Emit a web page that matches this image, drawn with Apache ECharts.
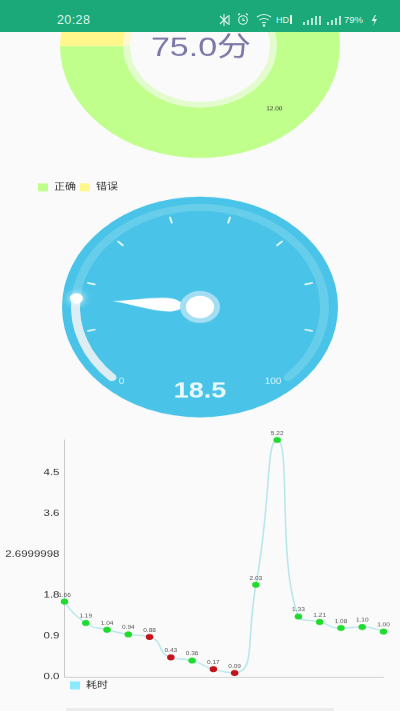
<!DOCTYPE html>
<html><head><meta charset="utf-8">
<script src="https://cdn.jsdelivr.net/npm/echarts@6/dist/echarts.min.js"></script>
<style>
html,body{margin:0;padding:0;width:400px;height:711px;overflow:hidden;background:#fafafa;font-family:"Liberation Sans",sans-serif}
#chart{position:absolute;left:0;top:0;width:400px;height:889px;transform:scaleY(0.8);transform-origin:0 0}
#bar{position:absolute;left:0;top:0;width:400px;height:32px;background:#1ba97a;color:#dff5ec;z-index:5}
#time{position:absolute;left:57px;top:12px;font-size:12.5px;letter-spacing:.4px;line-height:16px}
#hd{position:absolute;left:276px;top:14px;font-size:9px;line-height:12px}
#pct{position:absolute;left:344px;top:14px;font-size:9.5px;line-height:12px}
#bar svg{position:absolute;left:0;top:0}
#foot{position:absolute;left:66px;top:708px;width:268px;height:3px;background:#ececec}
</style></head><body>
<div id="chart"></div>
<div id="bar"><span id="time">20:28</span><span id="hd">HD</span><span id="pct">79%</span>
<svg width="400" height="32" fill="none" stroke="#dff5ec" stroke-width="1.1">
<path d="M220 16l8 8M220 24l8-8M224 14v12M229 15v10"/>
<circle cx="243" cy="20" r="4.3"/><path d="M243 18v2.5h2M238 15l2-1.5M248 15l-2-1.5"/>
<path d="M257 17q7-5 14 0M259.500 20q4.500-3 9 0M262 23q2-1.500 4 0"/><circle cx="264" cy="25.500" r=".8" fill="#dff5ec"/>
<path d="M291 15v9" stroke-width="2"/>
<path d="M304 25v-3M308 25v-5M312 25v-7M316 25v-9M320 25v-9M328 25v-3M332 25v-5M336 25v-7M340 25v-9" stroke-width="1.600"/>
<path d="M375 15l-3.500 6h3l-1.500 5 4-7h-3l2-4z" fill="#dff5ec" stroke="none"/>
</svg></div>
<div id="foot"></div>
<script>
// Score ring
const pieNames = ['正确', '错误'];
const pieValues = [12, 4];
const pieColors = ['#C0FF8C', '#FFF78C'];
const scoreText = '75.0分';
// Gauge
const gaugeValue = 18.5;
const gaugeMin = 0;
const gaugeMax = 100;
// Line
const lineName = '耗时';
const lineCats = ['1','2','3','4','5','6','7','8','9','10','11','12','13','14','15','16'];
const lineValues = [1.66,1.19,1.04,0.94,0.88,0.43,0.36,0.17,0.09,2.03,5.22,1.33,1.21,1.08,1.10,1.00];
const lineDotColors = ['g','g','g','g','r','r','g','r','r','g','g','g','g','g','g','g'];
const yTickLabels = ['0.0','0.9','1.8','2.6999998','3.6','4.5'];

const GREEN='#1FDB2D', RED='#C4121C';
const cy = v => v / 0.8;
const gaugeCenter = [200, cy(307)];
const font = '"Liberation Sans",sans-serif';
const cjk = '"Liberation Sans","Noto Sans CJK SC",sans-serif';
const pieData = pieNames.map((n,i)=>({name:n,value:pieValues[i],itemStyle:{color:pieColors[i]}}));

const chart = echarts.init(document.getElementById('chart'), null, {renderer:'canvas'});
chart.setOption({
  animation:false,
  backgroundColor:'#fafafa',
  title:{text:scoreText,left:196,top:cy(45)-18,textAlign:'center',
    textStyle:{fontFamily:cjk,fontWeight:'normal',fontSize:34,color:'#7b78a6'}},
  legend:[
    {data:pieNames,left:38,top:cy(183),padding:0,icon:'rect',itemWidth:10,itemHeight:10,itemGap:4,
      textStyle:{fontFamily:cjk,fontSize:11,color:'#333',padding:[0,0,0,1]}},
    {data:[{name:lineName,icon:'rect',itemStyle:{color:'#8CEAFF'}}],left:70,top:cy(681),padding:0,itemWidth:10,itemHeight:10,itemGap:6,
      textStyle:{fontFamily:cjk,fontSize:11,color:'#333',padding:[0,0,0,1]}}
  ],
  grid:{left:64.5,right:16.5,top:cy(440),bottom:889-cy(677)},
  xAxis:{type:'category',data:lineCats,boundaryGap:false,
    axisLine:{lineStyle:{color:'#c8c8c8',width:1}},axisTick:{show:false},axisLabel:{show:false},splitLine:{show:false}},
  yAxis:{type:'value',min:0,max:5.22,interval:0.9,
    axisLine:{show:true,lineStyle:{color:'#c8c8c8',width:1}},axisTick:{show:false},splitLine:{show:false},
    axisLabel:{show:true,showMaxLabel:false,margin:5,fontFamily:font,fontSize:11.5,color:'#333',
      formatter:(v,i)=>yTickLabels[i]??''}},
  series:[
    {type:'pie',name:'score',center:[200,cy(46)],radius:[77,140],startAngle:90,clockwise:true,silent:true,
      data:pieData,label:{show:true,position:'inside',padding:[0,9,0,0],formatter:p=>p.value.toFixed(2),fontSize:6.5,color:'#333',fontFamily:font},
      labelLine:{show:false},emphasis:{disabled:true}},
    {type:'pie',name:'ring',center:[200,cy(46)],radius:[70,77],startAngle:90,silent:true,
      data:pieData,label:{show:false},labelLine:{show:false},itemStyle:{opacity:0.4},emphasis:{disabled:true}},
    {type:'gauge',name:'disc',center:gaugeCenter,radius:138,startAngle:90,endAngle:-270,min:gaugeMin,max:gaugeMax,
      axisLine:{lineStyle:{width:138,color:[[1,'#49C4E8']]}},axisTick:{show:false},splitLine:{show:false},axisLabel:{show:false},
      pointer:{show:false},anchor:{show:false},title:{show:false},detail:{show:false},data:[],silent:true,z:1},
    {type:'gauge',name:'dial',center:gaugeCenter,radius:129,startAngle:225,endAngle:-45,min:gaugeMin,max:gaugeMax,
      axisLine:{roundCap:true,lineStyle:{width:9,color:[[1,'rgba(255,255,255,0.16)']]}},
      progress:{show:true,roundCap:true,width:9,itemStyle:{color:'#DCEEF3'}},
      axisTick:{show:false},splitLine:{show:false},axisLabel:{show:false},
      pointer:{show:true,icon:'path://M50,0 C62,25 100,50 100,72 C100,88 64,90 58,100 L42,100 C36,90 0,88 0,72 C0,50 38,25 50,0Z',
        width:17,length:76,offsetCenter:[0,-12],itemStyle:{color:'#fff'}},
      anchor:{show:true,showAbove:true,size:34,itemStyle:{color:'#fff',borderColor:'#A4DEF2',borderWidth:6}},
      title:{show:false},
      detail:{show:true,valueAnimation:false,offsetCenter:[0,cy(85)],formatter:v=>v.toFixed(1),
        fontFamily:font,fontWeight:'bold',fontSize:27,color:'#EAF8FC'},
      data:[{value:gaugeValue}],silent:true,z:2},
    {type:'gauge',name:'glow',center:gaugeCenter,radius:129,startAngle:225,endAngle:-45,min:gaugeMin,max:gaugeMax,
      axisLine:{show:false,lineStyle:{width:0}},axisTick:{show:false},splitLine:{show:false},axisLabel:{show:false},
      pointer:{show:true,icon:'circle',width:13,length:13,offsetCenter:[0,-117.500],
        itemStyle:{color:'#fff',shadowBlur:10,shadowColor:'#fff'}},
      anchor:{show:false},title:{show:false},detail:{show:false},data:[{value:gaugeValue}],silent:true,z:3},
    {type:'gauge',name:'ticks',center:gaugeCenter,radius:116,startAngle:195,endAngle:-15,splitNumber:7,min:0,max:70,
      axisLine:{show:false,lineStyle:{width:0}},axisTick:{show:false},
      splitLine:{show:true,length:7,distance:0,lineStyle:{color:'#E6F7FB',width:2,cap:'round'}},
      axisLabel:{show:false},pointer:{show:false},anchor:{show:false},title:{show:false},detail:{show:false},data:[],silent:true,z:3},
    {type:'gauge',name:'ends',center:gaugeCenter,radius:134,startAngle:229,endAngle:-49,splitNumber:1,min:gaugeMin,max:gaugeMax,
      axisLine:{show:false,lineStyle:{width:0}},axisTick:{show:false},splitLine:{show:false,length:0},
      axisLabel:{show:true,distance:0,fontFamily:font,fontSize:10,color:'#DDF4FB'},
      pointer:{show:false},anchor:{show:false},title:{show:false},detail:{show:false},data:[],silent:true,z:3},
    {type:'line',name:lineName,data:lineValues.map((v,i)=>({value:v,itemStyle:{color:lineDotColors[i]==='r'?RED:GREEN}})),
      smooth:0.6,symbol:'circle',symbolSize:7.5,clip:true,showSymbol:true,
      lineStyle:{color:'#B8E8EA',width:1.6},itemStyle:{color:GREEN},
      label:{show:true,position:'top',distance:1,formatter:p=>p.value.toFixed(2),fontSize:6.5,color:'#555',fontFamily:font}}
  ]
});
</script></body></html>
